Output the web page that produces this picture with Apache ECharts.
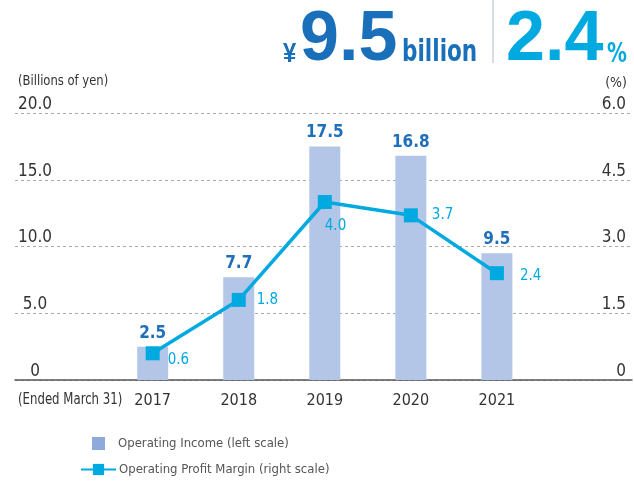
<!DOCTYPE html>
<html><head><meta charset="utf-8">
<script src="https://cdn.jsdelivr.net/npm/echarts@6/dist/echarts.min.js"></script>
<style>html,body{margin:0;padding:0;background:#fff}#c{width:634px;height:483px}</style>
</head><body><div id="c"></div>
<script>
const years = [2017, 2018, 2019, 2020, 2021];
const operatingIncome = [2.5, 7.7, 17.5, 16.8, 9.5];
const operatingMargin = [0.6, 1.8, 4.0, 3.7, 2.4];
const leftTicks = [0, 5, 10, 15, 20];
const rightTicks = [0, 1.5, 3.0, 4.5, 6.0];

const FN = "'Liberation Sans Narrow','DejaVu Sans Condensed','Roboto',sans-serif";
const BOLDF = "'Liberation Sans','Arial',sans-serif";
const BLUE = '#1f6fba', CYAN = '#00a9e0', BAR = '#b4c6e7';

// label placement styles for the margin series (kept apart from data)
const marginLabelStyle = [
  {position:'right', distance:8, offset:[0,7]},
  {position:'right', distance:11, offset:[0,0]},
  {position:'bottom', distance:10, align:'left', offset:[0,0]},
  {position:'right', distance:14, offset:[0,0]},
  {position:'right', distance:16, offset:[0,3]}
];

const chart = echarts.init(document.getElementById('c'));
chart.setOption({
  animation:false,
  textStyle:{fontFamily:FN},
  grid:{left:15, right:2, top:113, bottom:103},
  xAxis:{
    type:'value', min:2015.4, max:2022.57,
    axisLine:{show:true, lineStyle:{color:'#555', width:1.5}},
    axisTick:{show:false}, splitLine:{show:false},
    axisLabel:{customValues:years, color:'#333', fontSize:16, fontFamily:FN, margin:13,
      formatter:v=>String(v)}
  },
  yAxis:[
    {type:'value', min:0, max:20, interval:5, position:'left',
     axisLine:{show:false}, axisTick:{show:false},
     splitLine:{show:true, lineStyle:{color:'#aaa', type:[3,3], width:1}},
     axisLabel:{inside:true, align:'center', verticalAlign:'bottom', margin:20, color:'#333',
       fontSize:17, fontFamily:FN, showMinLabel:true, showMaxLabel:true,
       formatter:v=>v===0?'0':v.toFixed(1)}},
    {type:'value', min:0, max:6, interval:1.5, position:'right',
     axisLine:{show:false}, axisTick:{show:false}, splitLine:{show:false},
     axisLabel:{inside:true, align:'right', verticalAlign:'bottom', margin:6, color:'#333',
       fontSize:17, fontFamily:FN, showMinLabel:true, showMaxLabel:true,
       formatter:v=>v===0?'0':v.toFixed(1)}}
  ],
  legend:[
    {data:[{name:'Operating Income (left scale)', icon:'rect', itemStyle:{color:'#8eaadb'}}],
     left:92, top:437, padding:0, itemWidth:13, itemHeight:13, itemGap:0,
     textStyle:{color:'#555', fontSize:13, fontFamily:FN, padding:[0,0,0,8]}},
    {data:['Operating Profit Margin (right scale)'],
     left:80, top:463, padding:0, itemWidth:35, itemHeight:14, itemGap:0,
     textStyle:{color:'#555', fontSize:13, fontFamily:FN, padding:[0,0,0,-2]}}
  ],
  series:[
    {name:'Operating Income (left scale)', type:'bar', yAxisIndex:0,
     barWidth:31, itemStyle:{color:BAR},
     data:years.map((y,i)=>[y, operatingIncome[i]]),
     label:{show:true, position:'top', distance:5, color:BLUE, fontSize:17, fontWeight:'bold',
       fontFamily:FN, formatter:p=>p.value[1].toFixed(1)}},
    {name:'Operating Profit Margin (right scale)', type:'line', yAxisIndex:1,
     symbol:'rect', symbolSize:14,
     lineStyle:{color:CYAN, width:3.5}, itemStyle:{color:CYAN},
     data:years.map((y,i)=>({value:[y, operatingMargin[i]], label:marginLabelStyle[i]})),
     label:{show:true, color:CYAN, fontSize:15, fontFamily:FN,
       formatter:p=>p.value[1].toFixed(1)}}
  ],
  graphic:[
    {type:'text', x:18, y:74, scaleX:0.92, style:{text:'(Billions of yen)', fill:'#333', font:"14px "+FN}},
    {type:'text', x:627, y:76, style:{text:'(%)', fill:'#333', font:"14px "+FN, align:'right'}},
    {type:'text', x:18, y:393, scaleX:0.87, style:{text:'(Ended March 31)', fill:'#333', font:"15px "+FN}},
    {type:'text', x:283, y:40, scaleX:0.85, style:{text:'¥', fill:'#1a6fba', font:"bold 28px "+BOLDF}},
    {type:'text', x:300, y:6, style:{text:'9.5', fill:'#1a6fba', font:"bold 70px "+BOLDF}},
    {type:'text', x:402, y:38, scaleX:0.8, style:{text:'billion', fill:'#1a6fba', font:"bold 30px "+FN}},
    {type:'line', shape:{x1:493, y1:0, x2:493, y2:63}, style:{stroke:'#ccd2da', lineWidth:1.5}},
    {type:'text', x:506, y:6, style:{text:'2.4', fill:CYAN, font:"bold 70px "+BOLDF}},
    {type:'text', x:607, y:42, scaleX:0.85, style:{text:'%', fill:CYAN, font:"bold 26px "+FN}}
  ]
});
</script></body></html>
